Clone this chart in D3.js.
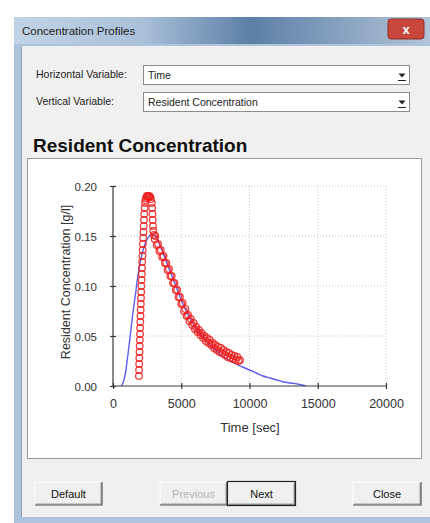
<!DOCTYPE html>
<html>
<head>
<meta charset="utf-8">
<script src="https://cdn.jsdelivr.net/npm/d3@7"></script>
<style>
  html, body { margin: 0; padding: 0; background: #ffffff; }
  svg { display: block; font-family: "Liberation Sans", Arial, sans-serif; }
</style>
</head>
<body>
<div id="dialog"></div>
<script>
//------------------------------------------------------------------------------
// Data
//------------------------------------------------------------------------------

// measured (red circles)
var meas_time = [
	1900, 1910, 1920, 1930, 1945, 1955, 1965, 1980, 1990, 2000,
	2015, 2025, 2040, 2050, 2065, 2080, 2095, 2110, 2125, 2140,
	2160, 2175, 2190, 2210, 2230, 2250, 2270, 2290, 2320, 2350,
	2380, 2420, 2480, 2540, 2600, 2660, 2720, 2780, 2840, 2870,
	2890, 2910, 2930, 2950, 3000, 3050,
	3100, 3200, 3300, 3400, 3500, 3600, 3700, 3800, 3900, 4000,
	4100, 4200, 4300, 4400, 4500, 4600, 4700, 4800, 4900, 5000,
	5100, 5200, 5300, 5400, 5500, 5600, 5700, 5800, 5900, 6000,
	6100, 6200, 6300, 6400, 6500, 6600, 6700, 6800, 6900, 7000,
	7100, 7200, 7300, 7400, 7500, 7600, 7700, 7800, 7900, 8000,
	8100, 8200, 8300, 8400, 8500, 8600, 8700, 8800, 8900, 9000,
	9100, 9200, 9300
];
var meas_conc = [
	0.010, 0.016, 0.022, 0.028, 0.034, 0.040, 0.046, 0.052, 0.058, 0.064,
	0.070, 0.076, 0.082, 0.088, 0.094, 0.100, 0.106, 0.112, 0.118, 0.124,
	0.130, 0.136, 0.142, 0.148, 0.154, 0.160, 0.166, 0.172, 0.178, 0.183,
	0.186, 0.188, 0.190, 0.190, 0.189, 0.190, 0.189, 0.187, 0.183, 0.178,
	0.172, 0.166, 0.160, 0.155, 0.151, 0.147,
	0.150, 0.141, 0.142, 0.135, 0.136, 0.129, 0.130, 0.123, 0.123, 0.116,
	0.117, 0.110, 0.110, 0.103, 0.103, 0.096, 0.096, 0.089, 0.089, 0.082,
	0.083, 0.075, 0.077, 0.070, 0.071, 0.065, 0.067, 0.061, 0.063, 0.057,
	0.059, 0.054, 0.056, 0.051, 0.053, 0.048, 0.050, 0.045, 0.048, 0.043,
	0.046, 0.041, 0.043, 0.038, 0.041, 0.036, 0.039, 0.034, 0.038, 0.033,
	0.036, 0.031, 0.034, 0.029, 0.033, 0.028, 0.031, 0.027, 0.030, 0.026,
	0.029, 0.025, 0.026
];

// fitted model (blue line)
var model_time = [
	600, 700, 900, 1100, 1250, 1450, 1620, 1800, 1985, 2150,
	2350, 2550, 2750, 2900, 3100, 3400, 3800, 4200, 4600, 5000,
	5400, 5800, 6200, 6600, 7000, 7500, 8000, 8500, 9000, 9500,
	10000, 10500, 11000, 11500, 12000, 12500, 13000, 13500, 14000, 14100
];
var model_conc = [
	0.000, 0.002, 0.012, 0.032, 0.049, 0.072, 0.089, 0.108, 0.123, 0.133,
	0.142, 0.148, 0.151, 0.151, 0.150, 0.142, 0.128, 0.114, 0.100, 0.086,
	0.074, 0.064, 0.056, 0.049, 0.042, 0.036, 0.030, 0.026, 0.022, 0.019,
	0.016, 0.013, 0.010, 0.008, 0.006, 0.004, 0.003, 0.002, 0.0005, 0.000
];

var x_ticks = [0, 5000, 10000, 15000, 20000];
var y_ticks = [0.00, 0.05, 0.10, 0.15, 0.20];


//------------------------------------------------------------------------------
// Dialog chrome
//------------------------------------------------------------------------------

function draw_button(svg, x, y, w, h, label, opts) {
	opts = opts || {};
	var g = svg.append("g");
	g.append("rect").attr("x", x).attr("y", y).attr("width", w).attr("height", h)
		.attr("fill", "#f0f0f0");
	// bevel: light top-left, dark bottom-right
	g.append("path").attr("d", "M" + x + "," + (y + h) + "V" + y + "H" + (x + w))
		.attr("fill", "none").attr("stroke", "#ffffff").attr("stroke-width", 1);
	g.append("path").attr("d", "M" + (x + 1) + "," + (y + h - 1) + "H" + (x + w - 1) + "V" + (y + 1))
		.attr("fill", "none").attr("stroke", "#a0a0a0").attr("stroke-width", 1);
	g.append("path").attr("d", "M" + x + "," + (y + h) + "H" + (x + w) + "V" + y)
		.attr("fill", "none").attr("stroke", "#555555").attr("stroke-width", 1.2);
	if (opts.isDefault) {
		g.append("rect").attr("x", x - 0.5).attr("y", y - 0.5).attr("width", w + 1).attr("height", h + 1)
			.attr("fill", "none").attr("stroke", "#222222").attr("stroke-width", 1.2);
	}
	g.append("text").attr("x", x + w / 2).attr("y", y + h / 2 + 4)
		.attr("text-anchor", "middle").attr("font-size", 11)
		.attr("fill", opts.disabled ? "#b4b4b4" : "#111111")
		.text(label);
}

function draw_combo(svg, x, y, w, h, value) {
	svg.append("rect").attr("x", x + 0.5).attr("y", y + 0.5).attr("width", w).attr("height", h)
		.attr("fill", "#ffffff").attr("stroke", "#8c8c8c");
	svg.append("text").attr("x", x + 5).attr("y", y + h / 2 + 4)
		.attr("font-size", 10.5).attr("fill", "#222").text(value);
	// drop-down arrow
	var ax = x + w - 7, ay = y + h / 2 - 1;
	svg.append("path").attr("d", "M" + (ax - 3.5) + "," + ay + "L" + (ax + 3.5) + "," + ay + "L" + ax + "," + (ay + 4) + "Z")
		.attr("fill", "#222");
	svg.append("line").attr("x1", ax - 4).attr("x2", ax + 4).attr("y1", ay + 7).attr("y2", ay + 7)
		.attr("stroke", "#222").attr("stroke-width", 1);
}

function draw_dialog(svg) {
	var defs = svg.append("defs");
	var tg = defs.append("linearGradient").attr("id", "titlebar");
	tg.append("stop").attr("offset", "0%").attr("stop-color", "#c2d3e6");
	tg.append("stop").attr("offset", "30%").attr("stop-color", "#a9c0d9");
	tg.append("stop").attr("offset", "55%").attr("stop-color", "#5d7fa6");
	tg.append("stop").attr("offset", "70%").attr("stop-color", "#7b98b8");
	tg.append("stop").attr("offset", "100%").attr("stop-color", "#b8c9dc");

	// window frame
	svg.append("rect").attr("x", 14).attr("y", 17).attr("width", 430).attr("height", 506)
		.attr("fill", "#aec4dc");
	svg.append("rect").attr("x", 14).attr("y", 17).attr("width", 430).attr("height", 27)
		.attr("fill", "url(#titlebar)");
	svg.append("text").attr("x", 22).attr("y", 35).attr("font-size", 11.5)
		.attr("fill", "#1e1e1e").text("Concentration Profiles");

	// close button
	svg.append("rect").attr("x", 388).attr("y", 19).attr("width", 36).attr("height", 20).attr("rx", 3)
		.attr("fill", "#c8473d").attr("stroke", "#8e3029");
	svg.append("text").attr("x", 406).attr("y", 34).attr("text-anchor", "middle")
		.attr("font-size", 13).attr("font-weight", "bold").attr("fill", "#ffffff").text("x");

	// client area
	svg.append("rect").attr("x", 21).attr("y", 46).attr("width", 420).attr("height", 471)
		.attr("fill", "#f0f0f0");
	svg.append("line").attr("x1", 21.5).attr("x2", 21.5).attr("y1", 46).attr("y2", 517)
		.attr("stroke", "#8fa3b8");

	// variable selectors
	svg.append("text").attr("x", 36).attr("y", 78).attr("font-size", 10.5).attr("fill", "#222")
		.text("Horizontal Variable:");
	svg.append("text").attr("x", 36).attr("y", 105).attr("font-size", 10.5).attr("fill", "#222")
		.text("Vertical Variable:");
	draw_combo(svg, 143, 65, 266, 19, "Time");
	draw_combo(svg, 143, 92, 266, 19, "Resident Concentration");

	// plot title
	svg.append("text").attr("x", 33).attr("y", 152).attr("font-size", 19).attr("font-weight", "bold")
		.attr("fill", "#111").text("Resident Concentration");

	// plot panel
	svg.append("rect").attr("x", 27.5).attr("y", 158.5).attr("width", 394).attr("height", 300)
		.attr("fill", "#ffffff").attr("stroke", "#9a9a9a");

	// buttons
	draw_button(svg, 35, 482, 67, 23, "Default");
	draw_button(svg, 160, 482, 67, 23, "Previous", {disabled: true});
	draw_button(svg, 228, 482, 67, 23, "Next", {isDefault: true});
	draw_button(svg, 353, 482, 68, 23, "Close");
}


//------------------------------------------------------------------------------
// Plotting
//------------------------------------------------------------------------------

function plot_profile(svg) {
	var x = d3.scaleLinear().domain([0, 20000]).range([113, 386]);
	var y = d3.scaleLinear().domain([0, 0.20]).range([386, 186]);

	// dotted grid
	var grid = svg.append("g");
	grid.selectAll(".vgrid").data(x_ticks.slice(1)).enter().append("line")
		.attr("x1", function(d) { return x(d); }).attr("x2", function(d) { return x(d); })
		.attr("y1", y(0.20)).attr("y2", y(0))
		.attr("stroke", "#c8c8c8").attr("stroke-dasharray", "1,2");
	grid.selectAll(".hgrid").data(y_ticks.slice(1)).enter().append("line")
		.attr("x1", x(0)).attr("x2", x(20000))
		.attr("y1", function(d) { return y(d); }).attr("y2", function(d) { return y(d); })
		.attr("stroke", "#c8c8c8").attr("stroke-dasharray", "1,2");

	// model curve
	var line = d3.line()
		.x(function(d) { return x(d[0]); })
		.y(function(d) { return y(d[1]); })
		.curve(d3.curveMonotoneX);
	svg.append("path")
		.datum(d3.zip(model_time, model_conc))
		.attr("d", line)
		.attr("fill", "none").attr("stroke", "#5c5cf0").attr("stroke-width", 1.4);

	// measured points
	svg.append("g").selectAll("circle")
		.data(d3.zip(meas_time, meas_conc))
		.enter().append("circle")
		.attr("cx", function(d) { return x(d[0]); })
		.attr("cy", function(d) { return y(d[1]); })
		.attr("r", 3.3)
		.attr("fill", "none")
		.attr("stroke", "#ee1c1c")
		.attr("stroke-opacity", 0.85)
		.attr("stroke-width", 1.3);

	// axes with cross ticks
	var x_axis = d3.axisBottom(x).tickValues(x_ticks).tickFormat(d3.format("d"))
		.tickSize(3).tickPadding(10);
	var y_axis = d3.axisLeft(y).tickValues(y_ticks).tickFormat(d3.format(".2f"))
		.tickSize(3).tickPadding(13);

	var gx = svg.append("g").attr("transform", "translate(0," + y(0) + ")").call(x_axis);
	gx.selectAll(".tick line").attr("y1", -3).attr("y2", 3);
	var gy = svg.append("g").attr("transform", "translate(" + x(0) + ",0)").call(y_axis);
	gy.selectAll(".tick line").attr("x1", -3).attr("x2", 3);

	[gx, gy].forEach(function(g) {
		g.select(".domain").attr("stroke", "#3a3a3a").attr("stroke-width", 1.2);
		g.selectAll(".tick line").attr("stroke", "#3a3a3a").attr("stroke-width", 1.2);
		g.selectAll("text").attr("fill", "#333").attr("font-family", "Liberation Sans, Arial, sans-serif");
	});
	gx.selectAll("text").attr("font-size", 12.5);
	gy.selectAll("text").attr("font-size", 11.5).attr("dy", "0.35em");
	gx.select(".domain").attr("d", "M" + x(0) + ",0H" + x(20000));
	gy.select(".domain").attr("d", "M0," + y(0) + "V" + y(0.20));

	// axis titles
	svg.append("text").attr("x", 250).attr("y", 432).attr("text-anchor", "middle")
		.attr("font-size", 13).attr("fill", "#333").text("Time [sec]");
	svg.append("text").attr("transform", "translate(70,282) rotate(-90)")
		.attr("text-anchor", "middle").attr("font-size", 12.5).attr("fill", "#333")
		.text("Resident Concentration [g/l]");
}


//------------------------------------------------------------------------------
// Main
//------------------------------------------------------------------------------

function main() {
	var svg = d3.select("#dialog").append("svg")
		.attr("width", 430).attr("height", 523);

	draw_dialog(svg);
	plot_profile(svg);
}

main();
</script>
</body>
</html>
